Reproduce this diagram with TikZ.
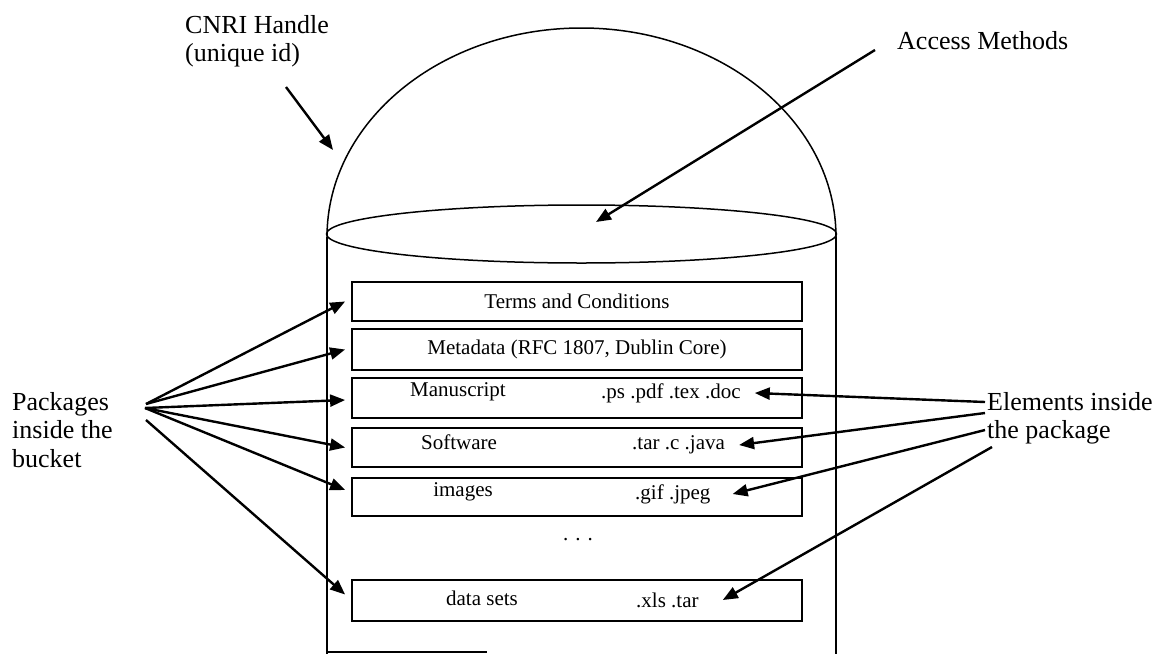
\documentclass[tikz,border=0pt]{standalone}
\usepackage{fontspec}
\setmainfont{Liberation Serif}
\usetikzlibrary{arrows.meta}
\newcommand\pkgfont{\fontsize{21}{24}\selectfont}
\newcommand\lblfont{\fontsize{26}{28.5}\selectfont}
\begin{document}
\begin{tikzpicture}[x=1pt,y=-1pt,
  shapeline/.style={line width=1.5pt},
  pkg/.style={draw, line width=1.8pt, minimum width=450pt, inner sep=0pt, font=\pkgfont},
  boxtext/.style={inner sep=0pt, font=\pkgfont},
  biglabel/.style={inner sep=0pt, align=left, anchor=north west, font=\lblfont},
  arr/.style={line width=2.4pt, -{Triangle[length=15pt,width=12pt]}},
]
\useasboundingbox (0,0) rectangle (1168,654);

% bucket
\draw[shapeline] (327,237) arc[start angle=180, end angle=360, x radius=254.5, y radius=209];
\draw[shapeline] (581.5,234) ellipse[x radius=255, y radius=29];
\draw[shapeline] (327,237) -- (327,654);
\draw[shapeline] (836,237) -- (836,654);
\draw[line width=2pt] (327,652) -- (487,652);

% packages
\node[pkg, minimum height=39pt] (terms) at (577,301.5) {Terms and Conditions};
\node[pkg, minimum height=41pt] (meta) at (577,349.5) {Metadata (RFC 1807, Dublin Core)};
\node[pkg, minimum height=40pt] (ms) at (577,398) {};
\node[pkg, minimum height=39pt] (sw) at (577,447.5) {};
\node[pkg, minimum height=38pt] (im) at (577,497) {};
\node[pkg, minimum height=41pt] (ds) at (577,600.5) {};

\node[boxtext] (mst) at (458,392) {Manuscript};
\node[boxtext, anchor=west] (msx) at (601,393) {.ps .pdf .tex .doc};
\node[boxtext] (swt) at (459,442) {Software};
\node[boxtext, anchor=west] (swx) at (632,445) {.tar .c .java};
\node[boxtext] (imt) at (463,492) {images};
\node[boxtext, anchor=west] (imx) at (635,494) {.gif .jpeg};
\node[boxtext] (dst) at (482,598) {data sets};
\node[boxtext, anchor=west] (dsx) at (636,600) {.xls .tar};
\node[boxtext] (dots) at (578,540) {. . .};

% labels
\node[biglabel] (cnri) at (185,15) {CNRI Handle\\(unique id)};
\node[biglabel] (access) at (897,31) {Access Methods};
\node[biglabel] (pack) at (12,392) {Packages\\inside the\\bucket};
\node[biglabel] (elem) at (987,392) {Elements inside\\the package};

% connector ends
\coordinate (c0) at (286,87);
\coordinate (c1) at (333,150);
\coordinate (a0) at (875,50);
\coordinate (a1) at (596,222);
\coordinate (p0) at (146,404);
\coordinate (p1) at (145,408);
\coordinate (p2) at (146,420);
\coordinate (e1) at (985,402);
\coordinate (e2) at (985,413);
\coordinate (e3) at (985,430);
\coordinate (e4) at (992,447);

\draw[arr] (c0) -- (c1);
\draw[arr] (a0) -- (a1);

\draw[arr] (p0) -- ([xshift=-6pt]terms.west);
\draw[arr] (p0) -- ([xshift=-6pt]meta.west);
\draw[arr] (p1) -- ([xshift=-6pt,yshift=-2pt]ms.west);
\draw[arr] (p1) -- ([xshift=-6pt]sw.west);
\draw[arr] (p1) -- ([xshift=-6pt,yshift=7pt]im.west);
\draw[arr] (p2) -- ([xshift=-6pt,yshift=6pt]ds.west);

\draw[arr] (e1) -- ([xshift=14pt]msx.east);
\draw[arr] (e2) -- ([xshift=14pt]swx.east);
\draw[arr] (e3) -- ([xshift=22pt]imx.east);
\draw[arr] (e4) -- ([xshift=24pt]dsx.east);
\end{tikzpicture}
\end{document}
